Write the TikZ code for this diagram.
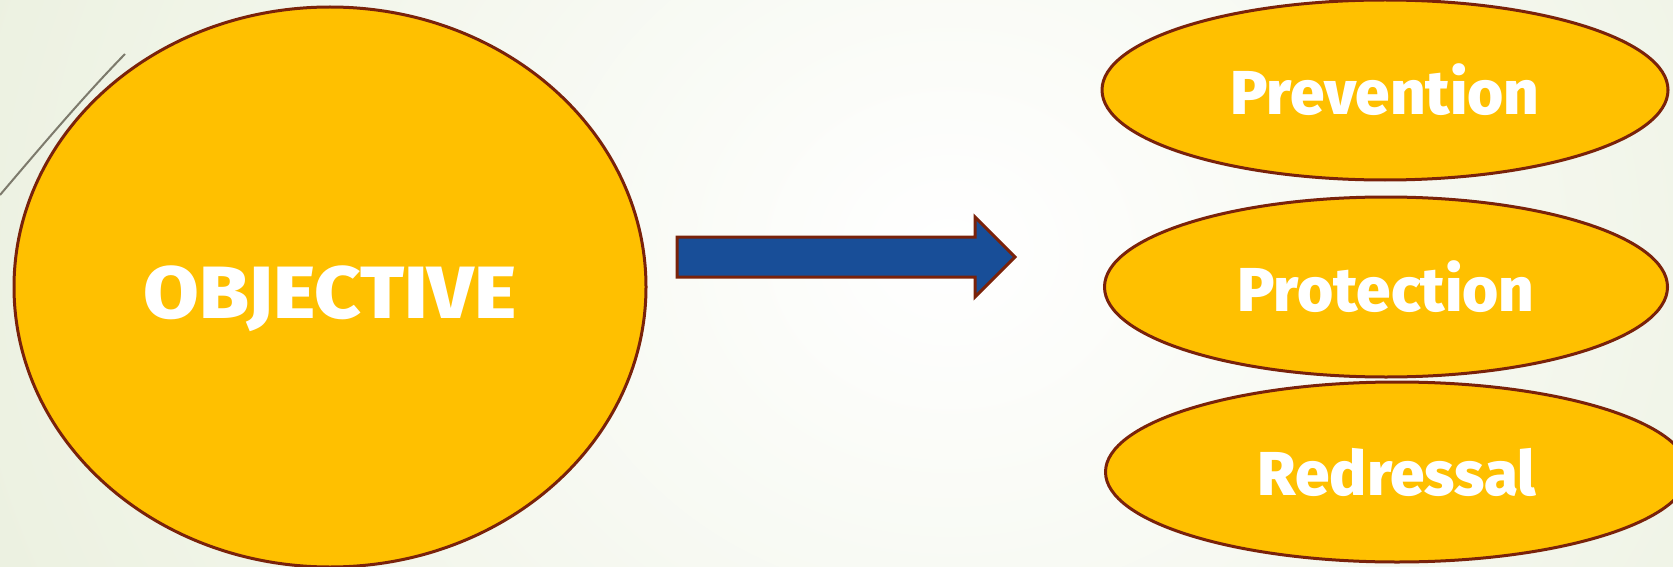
\documentclass[tikz,border=0pt]{standalone}
\usepackage{fontspec}
\setmainfont{Fira Sans}
\newfontfamily\heavyfont{Fira Sans ExtraBold}
\usetikzlibrary{shapes.geometric}

\definecolor{goldfill}{RGB}{255,192,0}
\definecolor{rimbrown}{RGB}{122,34,10}
\definecolor{arrowblue}{RGB}{24,78,152}
\definecolor{bggreen}{RGB}{225,233,207}
\definecolor{linegray}{RGB}{125,122,108}

\begin{document}
\begin{tikzpicture}[x=1pt, y=-1pt,
    bigoval/.style={ellipse, draw=rimbrown, line width=3pt, fill=goldfill, inner sep=0pt, minimum width=632pt, minimum height=560pt, text height=62pt, text depth=0pt, text=white, font=\heavyfont\fontsize{74}{80}\selectfont},
    oval/.style={ellipse, draw=rimbrown, line width=3pt, fill=goldfill, inner sep=0pt, minimum height=180pt, text=white, font=\heavyfont\fontsize{62}{70}\selectfont},
    blockarrow/.style={draw=rimbrown, line width=3pt, fill=arrowblue, line join=miter}
]

% Background
\clip (0,0) rectangle (1673,567);
\shade[inner color=white, outer color=bggreen] (-650,-1150) rectangle (2550,1650);
\draw[linegray, line width=2pt] (0,195) .. controls (45,142) and (85,95) .. (125,54);

% Objective
\node[bigoval] (objective) at (330,287) {\scalebox{1.09}[1]{OBJECTIVE}};

% Block arrow
\draw[blockarrow] (677,237) -- (975,237) -- (975,217) -- (1015,257)
    -- (975,297) -- (975,277) -- (677,277) -- cycle;

% Prevention
\node[oval, minimum width=566pt] (prevention) at (1385,90) {Prevention};

% Protection
\node[oval, minimum width=563pt] (protection) at (1386,287) {Protection};

% Redressal
\node[oval, minimum width=583pt] (redressal) at (1397,472) {Redressal};

\end{tikzpicture}
\end{document}
